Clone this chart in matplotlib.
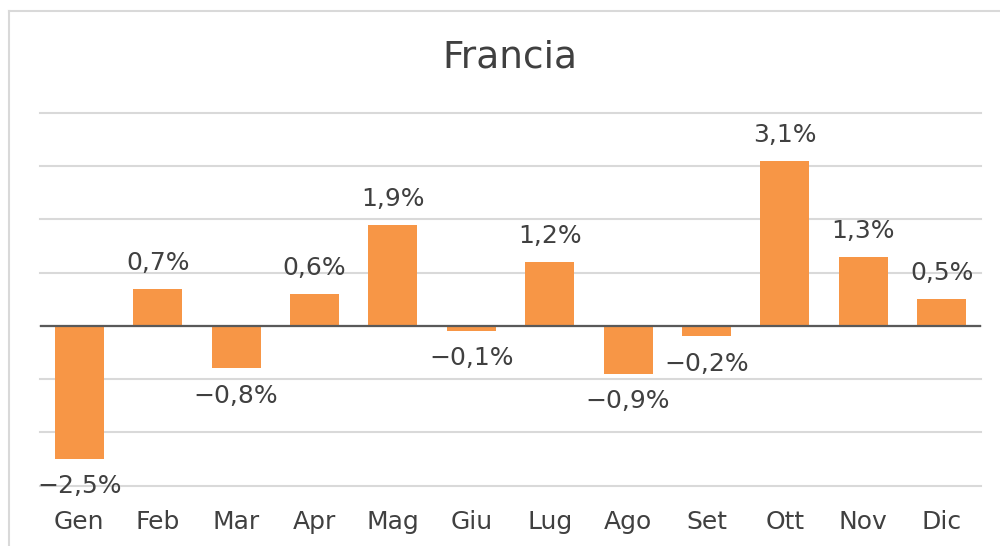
import matplotlib
matplotlib.use("Agg")
import matplotlib.pyplot as plt
from matplotlib.lines import Line2D

months = ["Gen", "Feb", "Mar", "Apr", "Mag", "Giu", "Lug", "Ago", "Set", "Ott", "Nov", "Dic"]
values = [-2.5, 0.7, -0.8, 0.6, 1.9, -0.1, 1.2, -0.9, -0.2, 3.1, 1.3, 0.5]
title = "Francia"

plt.rcParams['font.family'] = ['DejaVu Sans']
text_color = "#404040"
bar_color = "#F79646"
grid_color = "#D9D9D9"

fig = plt.figure(figsize=(10, 5.46), dpi=100)
W, H = 1000, 546
ax = fig.add_axes([40 / W, 1 - 485.7 / H, (981 - 40) / W, (485.7 - 112.7) / H])

x = list(range(len(months)))
ax.bar(x, values, width=0.625, color=bar_color, zorder=3)
ax.set_xlim(-0.5, len(months) - 0.5)
ax.set_ylim(-3, 4)
ax.set_yticks([-3, -2, -1, 0, 1, 2, 3, 4])
ax.yaxis.grid(True, color=grid_color, linewidth=1.5, zorder=0)
for gl in ax.get_ygridlines():
    gl.set_clip_on(False)
ax.axhline(0, color="#595959", linewidth=1.6, zorder=4)
ax.tick_params(axis='y', left=False, labelleft=False)
ax.set_xticks(x)
ax.set_xticklabels(months, fontsize=18, color=text_color)
ax.tick_params(axis='x', bottom=False, pad=14)
for s in ax.spines.values():
    s.set_visible(False)

for xi, v in zip(x, values):
    lab = f"{v:.1f}%".replace(".", ",").replace("-", "\u2212")
    if v >= 0:
        ax.annotate(lab, (xi, v), xytext=(0, 10), textcoords="offset points",
                    ha="center", va="bottom", fontsize=18, color=text_color, zorder=5)
    else:
        ax.annotate(lab, (xi, v), xytext=(0, -11), textcoords="offset points",
                    ha="center", va="top", fontsize=18, color=text_color, zorder=5)

fig.text(510 / W, 1 - 57 / H, title, ha="center", va="center", fontsize=27, color=text_color)

# chart border (top and left visible)
fig.add_artist(Line2D([9 / W, 1.0], [1 - 11 / H, 1 - 11 / H], color=grid_color, linewidth=1.5))
fig.add_artist(Line2D([9 / W, 9 / W], [1 - 11 / H, 0.0], color=grid_color, linewidth=1.5))

fig.savefig("out.png", dpi=100)
